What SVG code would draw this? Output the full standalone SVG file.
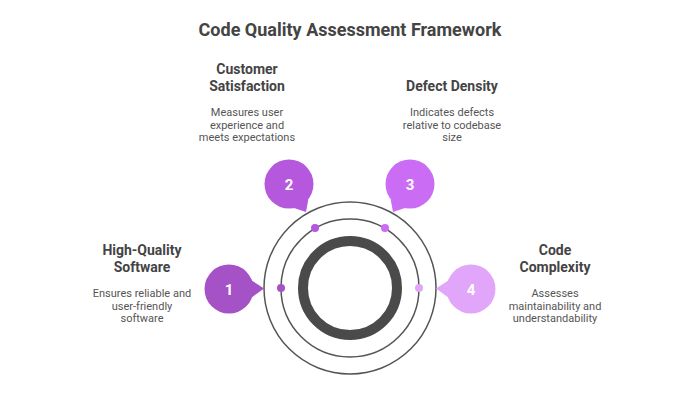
<svg xmlns="http://www.w3.org/2000/svg" width="700" height="400" viewBox="0 0 700 400">
<style>
.title{font-family:Roboto,"Liberation Sans",sans-serif;font-weight:700;font-size:18px;fill:#444;text-anchor:middle}
.head{font-family:Roboto,"Liberation Sans",sans-serif;font-weight:700;font-size:14px;fill:#444;text-anchor:middle}
.desc{font-family:Roboto,"Liberation Sans",sans-serif;font-size:11px;fill:#555;text-anchor:middle}
.num{font-family:Roboto,"Liberation Sans",sans-serif;font-weight:700;font-size:15px;fill:#fff;text-anchor:middle}
.ring{fill:none;stroke:#555;stroke-width:1.5}
</style>
<rect width="700" height="400" fill="#fff"/>
<text class="title" x="350" y="36">Code Quality Assessment Framework</text>
<g id="connectors">
<circle class="ring" cx="350" cy="288" r="86"/>
<circle class="ring" cx="350" cy="288" r="69"/>
<circle cx="350" cy="288" r="47" fill="none" stroke="#4a4a4a" stroke-width="10"/>
<circle cx="281" cy="288" r="4" fill="#a452c6"/>
<circle cx="315" cy="228" r="4" fill="#b558dd"/>
<circle cx="385" cy="228" r="4" fill="#cb6cf5"/>
<circle cx="419" cy="288" r="4" fill="#e1a6fa"/>
</g>
<g id="node1">
<circle cx="229" cy="289" r="24.5" fill="#a452c6"/>
<polygon points="251,280 264,288.5 251,298" fill="#a452c6"/>
<text class="num" x="229" y="294.5">1</text>
<text class="head" x="142" y="255">High-Quality</text>
<text class="head" x="142" y="272">Software</text>
<text class="desc" x="142" y="297">Ensures reliable and</text>
<text class="desc" x="142" y="309.5">user-friendly</text>
<text class="desc" x="142" y="322">software</text>
</g>
<g id="node2">
<circle cx="289" cy="184" r="24.5" fill="#b558dd"/>
<polygon points="308.4,199 306,212 294,208" fill="#b558dd"/>
<text class="num" x="289" y="189.5">2</text>
<text class="head" x="247" y="74">Customer</text>
<text class="head" x="247" y="91">Satisfaction</text>
<text class="desc" x="247" y="116">Measures user</text>
<text class="desc" x="247" y="128.5">experience and</text>
<text class="desc" x="247" y="141">meets expectations</text>
</g>
<g id="node3">
<circle cx="410" cy="184" r="24.5" fill="#cb6cf5"/>
<polygon points="390.6,199 393,212 405,208" fill="#cb6cf5"/>
<text class="num" x="410" y="189.5">3</text>
<text class="head" x="452" y="91">Defect Density</text>
<text class="desc" x="452" y="116">Indicates defects</text>
<text class="desc" x="452" y="128.5">relative to codebase</text>
<text class="desc" x="452" y="141">size</text>
</g>
<g id="node4">
<circle cx="471" cy="289" r="24.5" fill="#e1a6fa"/>
<polygon points="449,280 436,288.5 449,298" fill="#e1a6fa"/>
<text class="num" x="471" y="294.5">4</text>
<text class="head" x="555" y="255">Code</text>
<text class="head" x="555" y="272">Complexity</text>
<text class="desc" x="555" y="297">Assesses</text>
<text class="desc" x="555" y="309.5">maintainability and</text>
<text class="desc" x="555" y="322">understandability</text>
</g>
</svg>
